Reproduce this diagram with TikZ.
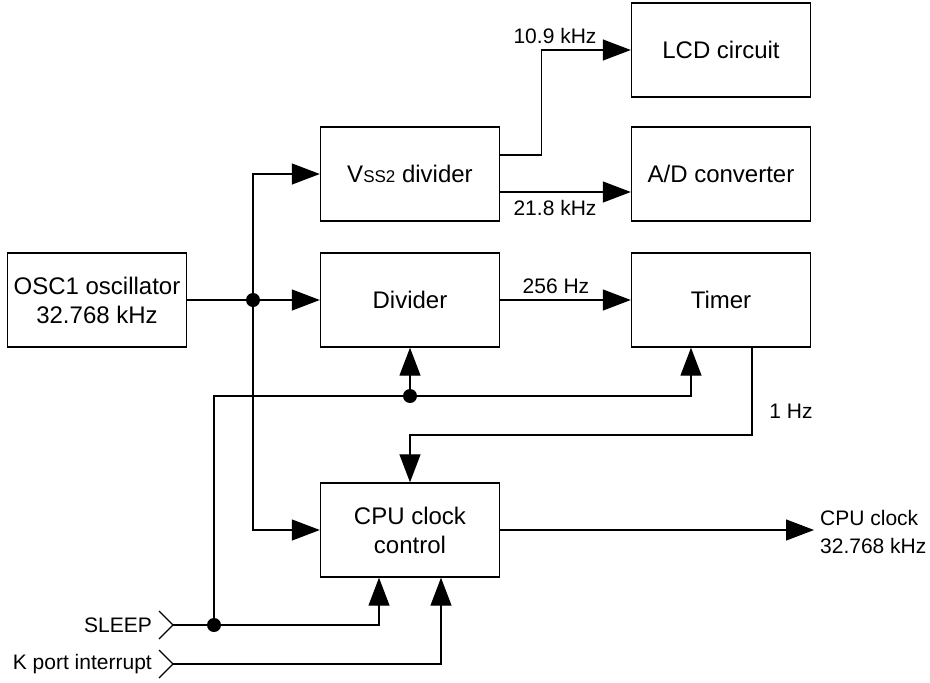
\documentclass[tikz,border=0pt]{standalone}
\usepackage{fontspec}
\setmainfont{Liberation Sans}
\usetikzlibrary{arrows.meta, positioning, calc}

\begin{document}
\begin{tikzpicture}[x=1pt, y=-1pt,
    box/.style={draw, line width=1.4pt, minimum width=179pt, minimum height=94pt,
                inner sep=0pt, align=center, font=\fontsize{24}{29}\selectfont},
    arr/.style={line width=1.3pt, -{Triangle[length=28pt, width=21pt]}},
    wire/.style={line width=1.3pt},
    dot/.style={circle, fill=black, inner sep=0pt, minimum size=14pt},
    lbl/.style={font=\fontsize{21}{28}\selectfont, inner sep=0pt, align=left}]
    \useasboundingbox (0,0) rectangle (930,683);

    % Blocks
    \node[box] (osc) at (97,300) {OSC1 oscillator\\32.768 kHz};
    \node[box] (vss) at (410,174) {V{\fontsize{17}{17}\selectfont SS2} divider};
    \node[box] (div) at (410,300) {Divider};
    \node[box] (cpu) at (410,530) {CPU clock\\control};
    \node[box] (lcd) at (721,50) {LCD circuit};
    \node[box] (adc) at (721,174) {A/D converter};
    \node[box] (timer) at (721,300) {Timer};

    % Junctions and ports
    \coordinate (j1) at (253,300);
    \coordinate (j2) at (214,625);
    \coordinate (j3) at (410,396);
    \coordinate (k1) at (410,435);
    \coordinate (sl) at (173,625);
    \coordinate (kp) at (173,664);
    \coordinate (cpuout) at (814,530);

    % Clock from oscillator
    \draw[arr] (osc) -- (div);
    \draw[arr] (j1) |- (vss.west);
    \draw[arr] (j1) |- (cpu.west);
    \node[dot] at (j1) {};

    % Outputs of VSS2 divider
    \draw[arr] ([yshift=19pt]vss.east) -- ++(41,0) |- (lcd.west);
    \draw[arr] ([yshift=-18pt]vss.east) -- ([yshift=-18pt]vss.east -| adc.west);
    \node[lbl] at (555,36) {10.9 kHz};
    \node[lbl] at (555,208) {21.8 kHz};

    % Divider to timer
    \draw[arr] (div) -- (timer);
    \node[lbl] at (556,286) {256 Hz};

    % Timer to CPU clock control
    \draw[arr] ([xshift=31pt]timer.south) |- (k1) -- (cpu.north);
    \node[lbl] at (791,411) {1 Hz};

    % SLEEP and K port inputs
    \draw[wire] (159,611) -- (sl) -- (159,639);
    \draw[wire] (159,650) -- (kp) -- (159,678);
    \node[lbl, anchor=east] at (152,625) {SLEEP};
    \node[lbl, anchor=east] at (152,664) {K port interrupt};
    \draw[arr] (sl) -| ([xshift=-31pt]cpu.south);
    \draw[arr] (j2) |- (j3) -| ([xshift=-30pt]timer.south);
    \draw[arr] (j3) -- (div.south);
    \draw[arr] (kp) -| ([xshift=31pt]cpu.south);
    \node[dot] at (j2) {};
    \node[dot] at (j3) {};

    % CPU clock output
    \draw[arr] (cpu.east) -- (cpuout);
    \node[lbl, anchor=west] at (820,532) {CPU clock\\32.768 kHz};
\end{tikzpicture}
\end{document}
